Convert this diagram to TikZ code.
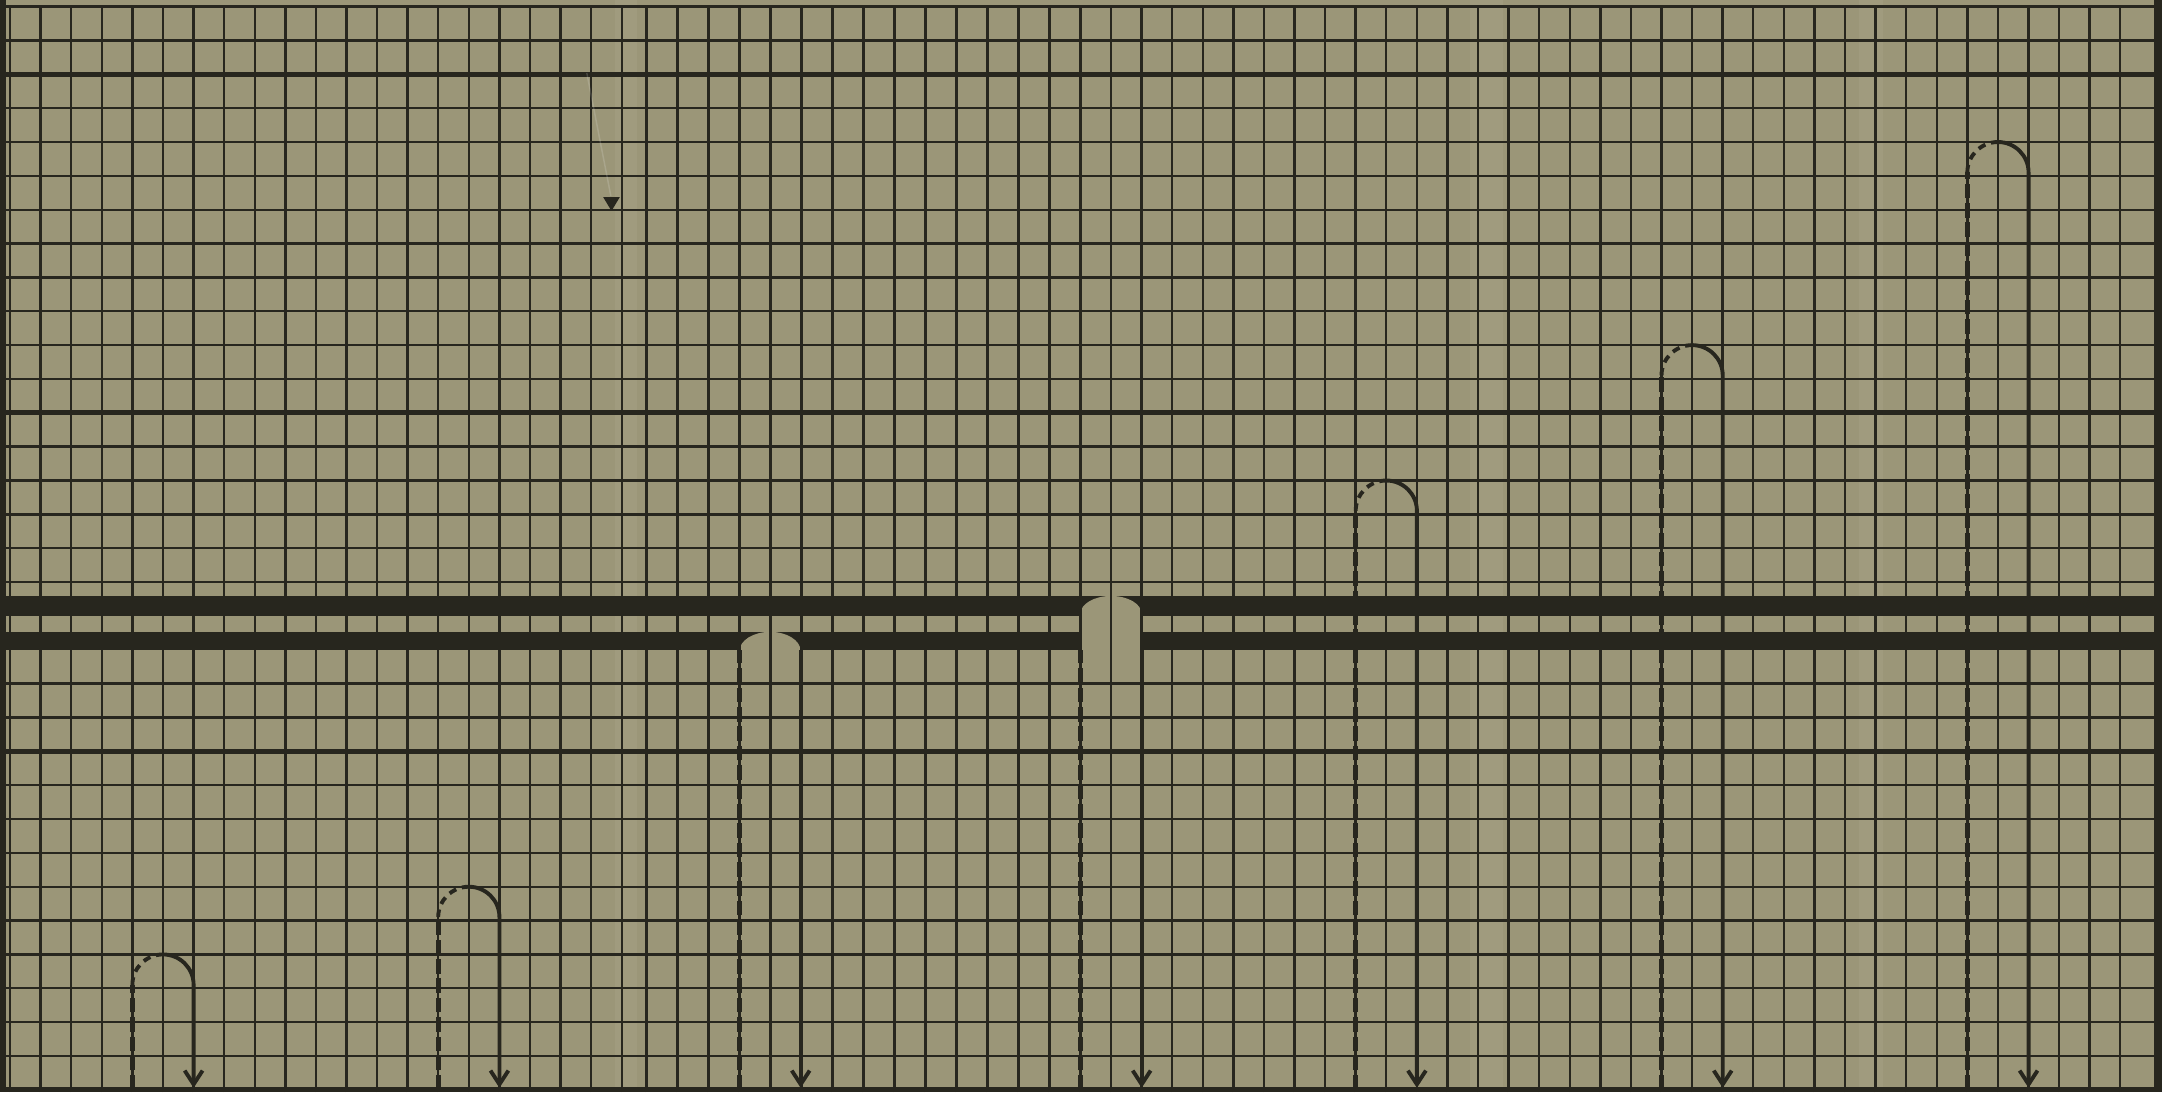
\documentclass[tikz,border=0pt]{standalone}
\usepackage{xcolor}
\usepackage{tikz}
\usetikzlibrary{arrows.meta,calc}
\definecolor{paper}{HTML}{9B9678}
\definecolor{ink}{HTML}{27261E}
\tikzset{
  gridline/.style={draw=ink,line width=0.5pt},
  heavyline/.style={draw=ink,line width=1.05pt},
  bar/.style={fill=ink},
  upleg/.style={draw=ink,line width=0.95pt,dash pattern=on 3pt off 1pt},
  uparc/.style={draw=ink,line width=0.8pt,dash pattern=on 1.6pt off 1.2pt},
  downleg/.style={draw=ink,line width=0.8pt,-{Straight Barb[length=1mm,width=1.3mm]}},
  crease/.style={fill=white,opacity=0.05}
}

\begin{document}
\begin{tikzpicture}[x=0.1mm,y=0.1mm,
  declare function={colx(\n)=7.3+22.18*\n-(\n>20)*(\n<35)*(35-\n)*0.3;
                    rowy(\n)=787.2-24.55*\n;}]
\useasboundingbox (0,0) rectangle (1568,792);
\fill[paper] (0,0) rectangle (1568,792);
\fill[crease] (446,0) rectangle (462,792);
\fill[crease] (1066,0) rectangle (1090,792);
\fill[crease] (1348,0) rectangle (1366,792);
\fill[ink] (0,0) rectangle (4,792);
\fill[ink] (1562,0) rectangle (1568,792);

% the two bars and the arches cut out of them
\fill[bar] (4,{rowy(18)}) rectangle (1562,{rowy(18)+14.5});
\fill[bar] (4,{rowy(19)}) rectangle (1562,{rowy(19)+13});
\fill[paper] ({colx(24)},{rowy(19)-2}) -- ({colx(24)},{rowy(19)-1})
  arc[start angle=180,end angle=0,x radius=2.22mm,y radius=1.4mm] -- ({colx(24)+44.4},{rowy(19)-2}) -- cycle;
\fill[paper] ({colx(35)},{rowy(19)}) -- ({colx(35)},{rowy(18)+1.5})
  arc[start angle=180,end angle=0,x radius=2.22mm,y radius=1.3mm] -- ({colx(35)+44.4},{rowy(19)}) -- cycle;

% grid
\foreach \i in {0,...,69}
  \draw[gridline] ({colx(\i)},0) -- ({colx(\i)},{rowy(0)});
\foreach \j in {0,...,17,20,21,...,32}
  \draw[gridline] (4,{rowy(\j)}) -- (1562,{rowy(\j)});
\foreach \j in {2,12,22,32}
  \draw[heavyline] (4,{rowy(\j)}) -- (1562,{rowy(\j)});

% marker at the fold
\draw[white,opacity=0.15,line width=0.3pt] (425.6,739) -- (443,650);
\fill[ink] (437.5,649) -- (449.5,649) -- (443.5,639) -- cycle;

% loops
\foreach \c/\r [count=\k] in {4/28,14/26,44/14,54/10,64/4}{
  \coordinate (top\k) at ({colx(\c)+22.2},{rowy(\r)});
  \draw[upleg] ({colx(\c)},{rowy(32)}) -- ({colx(\c)},{rowy(\r)-22});
  \draw[uparc] ({colx(\c)},{rowy(\r)-22}) arc[start angle=180,end angle=90,x radius=2.22mm,y radius=2.2mm];
  \draw[downleg] (top\k) arc[start angle=90,end angle=0,x radius=2.22mm,y radius=2.2mm]
    -- ({colx(\c)+44.4},3);
}
\foreach \c [count=\k] in {24,35}{
  \coordinate (foot\k) at ({colx(\c)+44.4},{rowy(19)});
  \draw[upleg] ({colx(\c)},{rowy(32)}) -- ({colx(\c)},{rowy(19)});
  \draw[downleg] (foot\k) -- ({colx(\c)+44.4},3);
}
\end{tikzpicture}
\end{document}
